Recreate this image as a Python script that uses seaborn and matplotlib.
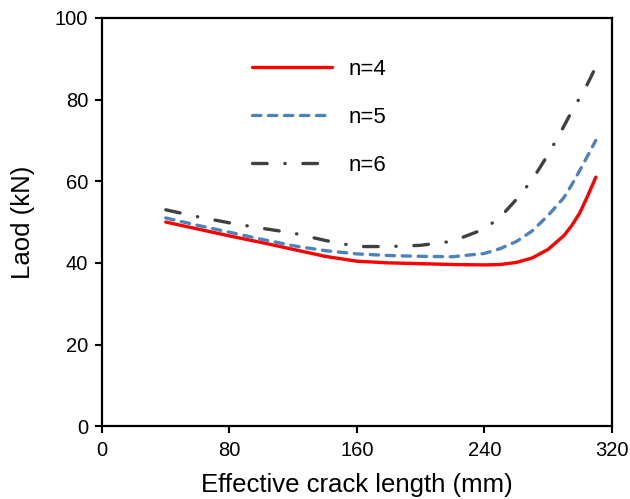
import numpy as np
import pandas as pd
import matplotlib
matplotlib.use("Agg")
import matplotlib.pyplot as plt
import seaborn as sns

# ------------------------------------------------------------
# Data
# ------------------------------------------------------------
crack_len = [40, 60, 80, 100, 120, 140, 160, 180, 200, 220, 240, 250, 260, 270, 280, 290, 295, 300, 305, 310]
load_n4 = [50.0, 48.3, 46.6, 45.0, 43.3, 41.6, 40.4, 40.0, 39.8, 39.6, 39.5, 39.6, 40.1, 41.2, 43.3, 46.7, 49.2, 52.3, 56.5, 61.0]
load_n5 = [51.0, 49.2, 47.5, 45.8, 44.2, 43.0, 42.2, 41.8, 41.6, 41.5, 42.3, 43.5, 45.2, 47.8, 51.6, 56.0, 59.2, 62.7, 66.3, 70.0]
load_n6 = [53.0, 51.3, 49.8, 48.5, 47.3, 45.5, 44.0, 44.0, 44.3, 45.3, 48.3, 51.2, 55.5, 60.3, 66.5, 73.5, 77.2, 80.5, 84.0, 88.0]

series = {
    'n=4': (load_n4, '#ff0000', '-'),
    'n=5': (load_n5, '#4f81bd', (0, (2.5, 2.3))),
    'n=6': (load_n6, '#404040', (0, (4.4, 5.3, 0.1, 5.3))),
}

sns.set_style("ticks")
plt.rcParams['font.family'] = ['Liberation Sans', 'DejaVu Sans']
plt.rcParams['text.color'] = 'black'
plt.rcParams['axes.labelcolor'] = 'black'

fig = plt.figure(figsize=(6.3, 4.99), dpi=100)
ax = fig.add_axes([0.162, 0.146, 0.809, 0.818])

for name, (vals, col, ls) in series.items():
    df = pd.DataFrame({'x': crack_len, 'y': vals})
    sns.lineplot(data=df, x='x', y='y', ax=ax, color=col, linestyle=ls,
                 linewidth=2.4, label=name, dash_capstyle='round', solid_capstyle='round')

ax.set_xlim(0, 320)
ax.set_ylim(0, 100)
ax.set_xticks([0, 80, 160, 240, 320])
ax.set_yticks([0, 20, 40, 60, 80, 100])
ax.tick_params(direction='out', length=5, width=1.5, labelsize=14.5, colors='black')
ax.tick_params(axis='x', pad=6)
ax.tick_params(axis='y', pad=5)
for sp in ax.spines.values():
    sp.set_visible(True)
    sp.set_linewidth(1.6)
    sp.set_color('black')

ax.set_xlabel('Effective crack length (mm)', fontsize=18.5, labelpad=9)
ax.set_ylabel('Laod (kN)', fontsize=18.5, labelpad=14)

ax.legend(loc='upper left', bbox_to_anchor=(0.255, 0.948), frameon=False,
          fontsize=16, handlelength=3.6, labelspacing=1.2, handletextpad=0.75)

fig.savefig('out.png', dpi=100)
